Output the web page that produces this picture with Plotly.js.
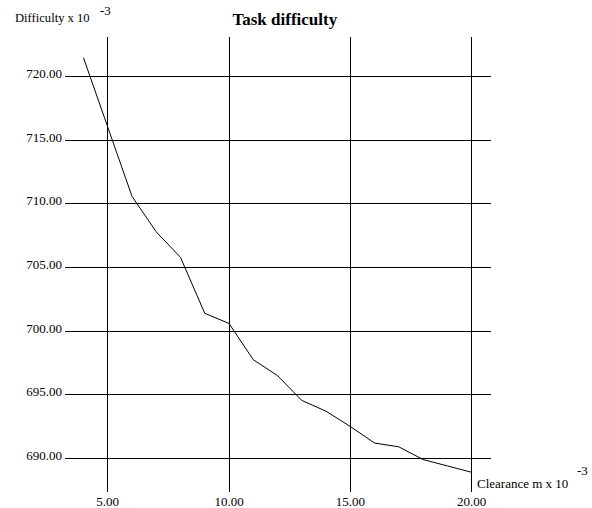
<!DOCTYPE html>
<html>
<head>
<meta charset="utf-8">
<script src="https://cdn.plot.ly/plotly-3.0.1.min.js"></script>
<style>html,body{margin:0;padding:0;background:#fff;}#chart{width:592px;height:508px;}</style>
</head>
<body>
<div id="chart"></div>
<script>
const clearance = [4, 5, 6, 7, 8, 9, 10, 11, 12, 13, 14, 15, 16, 17, 18, 19, 20];
const difficulty = [721.5, 716.0, 710.6, 707.8, 705.8, 701.4, 700.6, 697.75, 696.5, 694.55, 693.7, 692.5, 691.2, 690.9, 689.9, 689.4, 688.9];
const xTickVals = [5, 10, 15, 20];
const xTickText = ['5.00', '10.00', '15.00', '20.00'];
const yTickVals = [690, 695, 700, 705, 710, 715, 720];
const yTickText = ['690.00', '695.00', '700.00', '705.00', '710.00', '715.00', '720.00'];

const fam = 'Liberation Serif, Times New Roman, serif';
const font = {family: fam, size: 13, color: '#000'};
const yLabFont = {family: fam, size: 12.6, color: '#000'};

const trace = {
  x: clearance, y: difficulty, type: 'scatter', mode: 'lines',
  line: {color: '#000', width: 1}, hoverinfo: 'none'
};

const layout = {
  width: 592, height: 508,
  margin: {l: 65, r: 101, t: 37, b: 16, pad: 0},
  paper_bgcolor: '#fff', plot_bgcolor: '#fff',
  showlegend: false,
  font: font,
  title: {text: '<b>Task difficulty</b>', font: {family: fam, size: 17, color: '#000'},
          x: 0.516, xref: 'paper', xanchor: 'center', y: 0.962, yref: 'container', yanchor: 'middle'},
  xaxis: {
    range: [3.24, 20.80], tickvals: xTickVals, ticktext: xTickText,
    showgrid: true, gridcolor: '#000', gridwidth: 1, zeroline: false, showline: false,
    ticks: '', automargin: false, tickfont: font, ticklabelstandoff: 0
  },
  yaxis: {
    range: [687.35, 723.12], tickvals: yTickVals, ticktext: yTickText,
    showgrid: true, gridcolor: '#000', gridwidth: 1, zeroline: false, showline: false,
    ticks: '', automargin: false, tickfont: font, ticklabelshift: -3, ticklabelstandoff: 2
  },
  annotations: [
    {text: 'Difficulty x 10', xref: 'paper', yref: 'paper', x: (14 - 65) / 426, y: (492 - 18) / 455,
     xanchor: 'left', yanchor: 'middle', showarrow: false, font: yLabFont, borderpad: 0},
    {text: '-3', xref: 'paper', yref: 'paper', x: (99 - 65) / 426, y: (492 - 11) / 455,
     xanchor: 'left', yanchor: 'middle', showarrow: false, font: font, borderpad: 0},
    {text: 'Clearance m x 10', xref: 'paper', yref: 'paper', x: (476 - 65) / 426, y: (492 - 483) / 455,
     xanchor: 'left', yanchor: 'middle', showarrow: false, font: font, borderpad: 0},
    {text: '-3', xref: 'paper', yref: 'paper', x: (576 - 65) / 426, y: (492 - 470) / 455,
     xanchor: 'left', yanchor: 'middle', showarrow: false, font: font, borderpad: 0}
  ]
};

Plotly.newPlot('chart', [trace], layout, {staticPlot: true, displayModeBar: false});
</script>
</body>
</html>
